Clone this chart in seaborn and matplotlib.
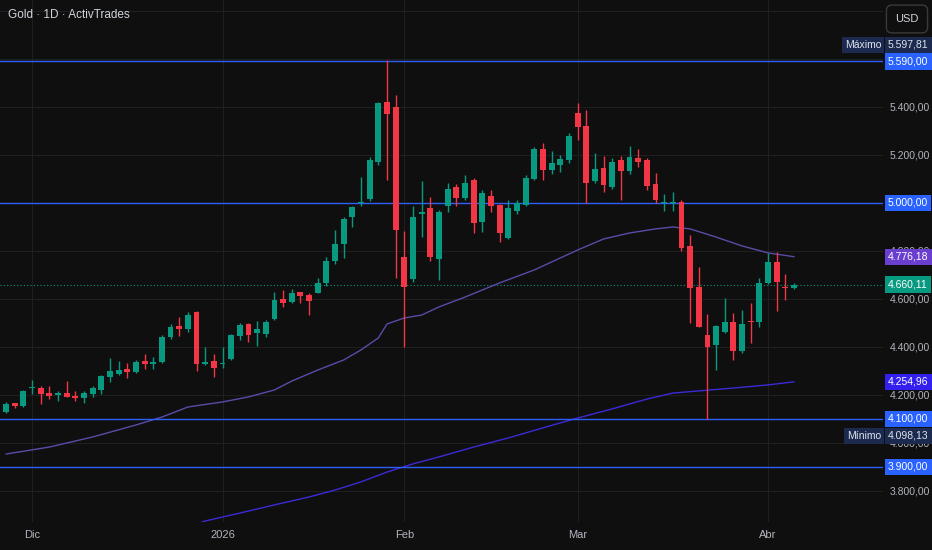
import numpy as np
import pandas as pd
import seaborn as sns
import matplotlib
matplotlib.use('Agg')
import matplotlib.pyplot as plt

# ------------------ DATA ------------------
opens = [4130, 4165, 4155, 4230, 4230, 4207, 4201, 4207, 4197, 4186,
         4203, 4221, 4277, 4289, 4308, 4296, 4342, 4331, 4336, 4440,
         4487, 4476, 4547, 4330, 4343, 4328, 4349, 4446, 4496, 4457,
         4454, 4515, 4601, 4588, 4628, 4615, 4626, 4668, 4757, 4830,
         4940, 4999, 5015, 5170, 5421, 5401, 4774, 4683, 4955, 4979,
         4767, 4989, 5068, 5022, 5096, 4920, 5029, 4992, 4856, 4968,
         4992, 5101, 5226, 5137, 5158, 5179, 5376, 5321, 5092, 5144,
         5068, 5179, 5133, 5186, 5179, 5078, 4999, 4999, 5005, 4821,
         4649, 4450, 4408, 4464, 4506, 4385, 4510, 4506, 4668, 4755,
         4650, 4645]
highs = [4172, 4168, 4221, 4262, 4237, 4237, 4218, 4260, 4218, 4218,
         4237, 4285, 4353, 4343, 4332, 4345, 4371, 4360, 4450, 4496,
         4526, 4545, 4551, 4401, 4371, 4399, 4455, 4499, 4499, 4510,
         4512, 4630, 4637, 4640, 4630, 4624, 4686, 4776, 4887, 4941,
         4987, 5110, 5190, 5419, 5597.81, 5450, 4885, 4987, 5092, 5026,
         4972, 5085, 5078, 5117, 5103, 5054, 5054, 4994, 5013, 5013,
         5115, 5234, 5251, 5217, 5200, 5292, 5418, 5388, 5207, 5196,
         5186, 5196, 5237, 5224, 5186, 5126, 5037, 5047, 5013, 4867,
         4732, 4536, 4492, 4603, 4543, 4554, 4582, 4686, 4793, 4797,
         4703, 4665]
lows = [4125, 4146, 4152, 4204, 4163, 4183, 4176, 4190, 4176, 4165,
        4193, 4204, 4255, 4285, 4272, 4292, 4308, 4308, 4332, 4432,
        4447, 4463, 4300, 4324, 4276, 4311, 4346, 4428, 4422, 4404,
        4440, 4513, 4568, 4584, 4584, 4533, 4624, 4653, 4745, 4770,
        4899, 4989, 5010, 5158, 5096, 4686, 4401, 4672, 4857, 4760,
        4680, 4964, 4989, 5013, 4876, 4878, 4964, 4839, 4850, 4955,
        4986, 5096, 5096, 5119, 5130, 5165, 5262, 4999, 5082, 5047,
        5057, 5013, 5119, 5151, 5054, 4999, 4968, 4968, 4799, 4501,
        4482, 4098.13, 4304, 4457, 4346, 4374, 4415, 4485, 4662, 4551,
        4596, 4640]
closes = [4162, 4155, 4218, 4234, 4203, 4197, 4207, 4193, 4188, 4207,
          4230, 4280, 4299, 4303, 4296, 4336, 4328, 4336, 4440, 4482,
          4473, 4533, 4328, 4336, 4311, 4332, 4449, 4492, 4449, 4476,
          4506, 4596, 4582, 4626, 4612, 4593, 4668, 4760, 4829, 4935,
          4983, 5004, 5179, 5415, 5371, 4888, 4651, 4943, 4963, 4774,
          4964, 5057, 5022, 5085, 4915, 5040, 4989, 4874, 4978, 4999,
          5106, 5226, 5137, 5165, 5182, 5279, 5318, 5085, 5142, 5075,
          5172, 5133, 5190, 5171, 5071, 5013, 5003, 5003, 4811, 4645,
          4485, 4401, 4489, 4506, 4385, 4494, 4506, 4668, 4755, 4672,
          4645, 4660.11]

# moving averages, read at a few bars
ma_fast_idx = [0, 5, 10, 15, 18, 21, 25, 28, 31, 33, 36, 39, 41, 43, 44, 46,
               48, 50, 53, 57, 61, 66, 69, 72, 75, 77, 79, 82, 85, 88, 91]
ma_fast = [3954, 3983, 4025, 4075, 4108, 4150, 4171, 4192, 4221, 4258, 4304,
           4346, 4388, 4438, 4496, 4521, 4533, 4567, 4608, 4667, 4721, 4804,
           4850, 4875, 4892, 4900, 4892, 4858, 4821, 4792, 4776.18]
ma_slow_idx = [20, 23, 27, 31, 35, 38, 41, 44, 47, 50, 54, 58, 62, 66, 70, 74,
               77, 80, 84, 88, 91]
ma_slow = [3637, 3675, 3708, 3742, 3775, 3804, 3838, 3879, 3913, 3942, 3983,
           4021, 4063, 4104, 4142, 4183, 4208, 4217, 4229, 4242, 4254.96]

levels = [5590, 5000, 4100, 3900]
price_ticks = [3800, 4000, 4200, 4400, 4600, 4800, 5000, 5200, 5400, 5600, 5800]
hidden_ticks = [5000, 5600, 5800]   # covered by tags / USD button in the chart
month_pos = [3, 25, 46, 66, 88]
month_labels = ['Dic', '2026', 'Feb', 'Mar', 'Abr']
last_price = 4660.11
max_price = 5597.81
min_price = 4098.13

BG = '#0f0f0f'
UP = '#089981'
DOWN = '#f23645'
TXT = '#b2b5be'


def fmt(v):
    return f'{v:,.2f}'.replace(',', 'X').replace('.', ',').replace('X', '.')


sns.set_theme(style='dark', rc={'axes.facecolor': BG, 'figure.facecolor': BG,
                                'grid.color': '#1f1f1f', 'grid.linewidth': 0.8})
plt.rcParams['font.family'] = ['Liberation Sans', 'DejaVu Sans']

df = pd.DataFrame({'open': opens, 'high': highs, 'low': lows, 'close': closes})
df['idx'] = np.arange(len(df))
df['color'] = np.where(df['close'] >= df['open'], UP, DOWN)

fig = plt.figure(figsize=(9.32, 5.5), dpi=100)
ax = fig.add_axes([0, 28 / 550, 883 / 932, 522 / 550])

# ------------------ CANDLES ------------------
ax.vlines(df['idx'], df['low'], df['high'], colors=df['color'], linewidth=1, zorder=3)
body = (df['close'] - df['open']).abs().clip(lower=4)
ax.bar(df['idx'], body, bottom=df[['open', 'close']].min(axis=1), width=0.68,
       color=df['color'], linewidth=0, zorder=4)

# ------------------ MOVING AVERAGES ------------------
sns.lineplot(x=ma_fast_idx, y=ma_fast, ax=ax, color='#5a4ba8', linewidth=1.0, zorder=2)
sns.lineplot(x=ma_slow_idx, y=ma_slow, ax=ax, color='#3b2ad8', linewidth=1.0, zorder=2)

# ------------------ LEVELS ------------------
for lv in levels:
    ax.axhline(lv, color='#2f5ff5', linewidth=1.0, zorder=2)
ax.axhline(last_price, color=UP, linewidth=0.8, linestyle=(0, (1, 2)), zorder=1)

ax.set_xlim(-0.693, 101.27)
ax.set_ylim(3670.8, 5845.8)
for s in ax.spines.values():
    s.set_visible(False)

ax.yaxis.tick_right()
ax.set_yticks(price_ticks, ['' if v in hidden_ticks else fmt(v) for v in price_ticks])
ax.set_xticks(month_pos, month_labels)
ax.tick_params(axis='y', length=0, pad=4.5, labelcolor=TXT, labelsize=7.5)
ax.tick_params(axis='x', length=0, pad=6, labelcolor=TXT, labelsize=8)
ax.grid(True, axis='both')
ax.set_xlabel('')
ax.set_ylabel('')

# ------------------ PRICE TAGS ------------------
tr = ax.get_yaxis_transform()


def tag(y, text, fc, x=1 + 5 / 883, ha='left', tc='white'):
    ax.text(x, y, text, transform=tr, ha=ha, va='center', fontsize=7.5, color=tc,
            bbox=dict(boxstyle='square,pad=0.3', fc=fc, ec='none'),
            clip_on=False, zorder=10)


for lv in levels:
    tag(lv, fmt(lv), '#2962ff')
tag(ma_fast[-1], fmt(ma_fast[-1]), '#6a3fcf')
tag(last_price, fmt(last_price), UP)
tag(ma_slow[-1], fmt(ma_slow[-1]), '#3320ee')
# max / min tags are shifted off the level boxes
tag(max_price + 62, fmt(max_price), '#1b2a4e', tc='#dfe3ee')
tag(max_price + 62, 'Máximo', '#1b2a4e', x=1 - 2 / 883, ha='right', tc='#dfe3ee')
tag(min_price - 68, fmt(min_price), '#1b2a4e', tc='#dfe3ee')
tag(min_price - 68, 'Mínimo', '#1b2a4e', x=1 - 2 / 883, ha='right', tc='#dfe3ee')

fig.text(8 / 932, 1 - 15 / 550, 'Gold · 1D · ActivTrades', color='#d1d4dc',
         fontsize=8.5, va='center', ha='left')
fig.text(907 / 932, 1 - 19 / 550, 'USD', color='#d1d4dc', fontsize=8,
         va='center', ha='center',
         bbox=dict(boxstyle='round,pad=0.8,rounding_size=0.5', fc=BG, ec='#3a3a3a'))

fig.savefig('out.png', dpi=100, facecolor=BG)
